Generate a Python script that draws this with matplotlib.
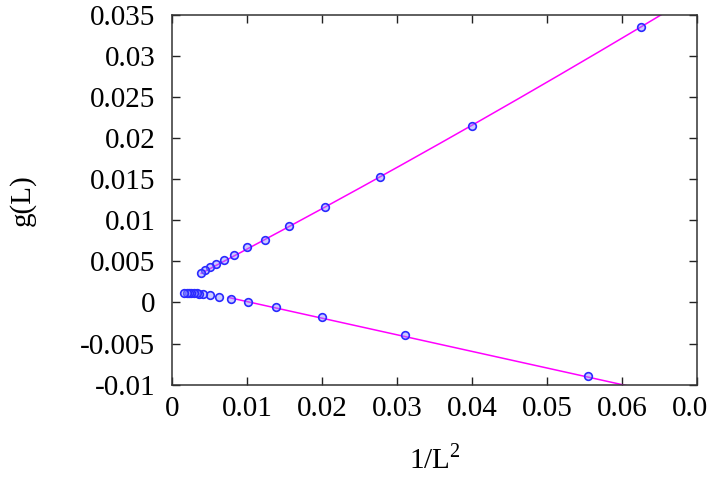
import numpy as np
import matplotlib
matplotlib.use("Agg")
import matplotlib.pyplot as plt

# ---- data ----
upper_x = [0.0625, 0.0400, 0.02778, 0.02041, 0.015625, 0.01235, 0.0100,
           0.00826, 0.00694, 0.00592, 0.00510, 0.00444, 0.00391]
upper_y = [0.0335, 0.0215, 0.0153, 0.0116, 0.0093, 0.0076, 0.00671,
           0.00577, 0.00517, 0.00464, 0.00428, 0.00395, 0.00355]

lower_x = [0.0555, 0.0311, 0.0200, 0.01387, 0.01017, 0.00787, 0.00627,
           0.00507, 0.00417, 0.00364, 0.00329, 0.00289, 0.00257, 0.00227,
           0.00196, 0.00164]
lower_y = [-0.00896, -0.00400, -0.00177, -0.00059, 0.00010, 0.00046, 0.00070,
           0.00087, 0.00099, 0.00107, 0.00111, 0.00115, 0.00119, 0.00119,
           0.00119, 0.00119]

# fit curves (coefficients a + b x + c x^2) and their x ranges
upper_fit = (0.001691, 0.47466, 0.5486)
upper_range = (0.0039, 0.07)
lower_fit = (0.00213, -0.202, 0.0)
lower_range = (0.0075, 0.07)

xticks = [0, 0.01, 0.02, 0.03, 0.04, 0.05, 0.06, 0.07]
xtick_labels = ["0", "0.01", "0.02", "0.03", "0.04", "0.05", "0.06", "0.07"]
yticks = [-0.01, -0.005, 0, 0.005, 0.01, 0.015, 0.02, 0.025, 0.03, 0.035]
ytick_labels = ["-0.01", "-0.005", "0", "0.005", "0.01", "0.015", "0.02",
                "0.025", "0.03", "0.035"]

plt.rcParams['font.family'] = ['Liberation Serif', 'DejaVu Serif']
plt.rcParams['mathtext.fontset'] = 'custom'
plt.rcParams['mathtext.rm'] = 'Liberation Serif'

fig = plt.figure(figsize=(7.09, 4.92), dpi=100)
ax = fig.add_axes([172/709, 1-384.7/492, (697-172)/709, (384.7-14.7)/492])

line_col = '#ff00ff'
for fit, rng in ((upper_fit, upper_range), (lower_fit, lower_range)):
    xs = np.linspace(rng[0], rng[1], 300)
    ys = fit[0] + fit[1]*xs + fit[2]*xs**2
    ax.plot(xs, ys, color=line_col, lw=1.1, zorder=2)

mk = dict(linestyle='none', marker='o', ms=5.5, mec='#2a2aff', mew=1.2,
          mfc=(0.55, 0.55, 1.0, 0.45), zorder=3)
ax.plot(upper_x, upper_y, **mk)
ax.plot(lower_x, lower_y, **mk)

ax.set_xlim(0, 0.07)
ax.set_ylim(-0.01, 0.035)
ax.set_xticks(xticks)
ax.set_xticklabels(xtick_labels)
ax.set_yticks(yticks)
ax.set_yticklabels(ytick_labels)
ax.tick_params(direction='in', length=6, width=1, top=True, right=True,
               labelsize=21, colors='#222222', labelcolor='black')
ax.tick_params(axis='y', pad=12)
ax.tick_params(axis='x', pad=8)
for s in ax.spines.values():
    s.set_linewidth(1.1)
    s.set_color('#333333')

ax.set_xlabel(r'1/L$^{2}$', fontsize=21, labelpad=16)
ax.set_ylabel('g(L)', fontsize=21, labelpad=32)

fig.savefig('out.png', dpi=100)
